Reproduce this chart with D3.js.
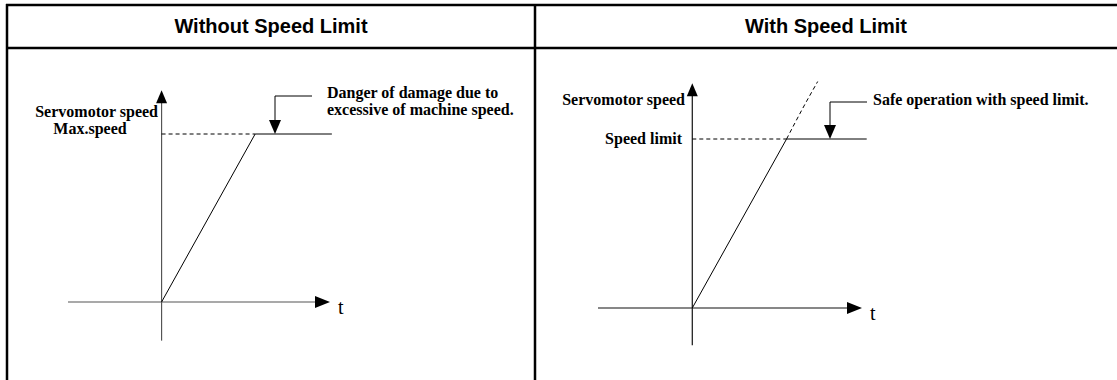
<!DOCTYPE html>
<html>
<head>
<meta charset="utf-8">
<script src="https://cdn.jsdelivr.net/npm/d3@7"></script>
<style>
  body { margin: 0; background: #fff; }
  .head { font-family: "Liberation Sans", Arial, sans-serif; font-weight: bold; font-size: 20px; }
  .lbl { font-family: "Liberation Serif", "Times New Roman", serif; font-weight: bold; font-size: 16px; }
  .t { font-family: "Liberation Serif", "Times New Roman", serif; font-size: 20px; }
</style>
</head>
<body>
<svg id="chart" width="1117" height="380"></svg>
<script>
// panel headers
var titles = ['Without Speed Limit', 'With Speed Limit'];

// speed profile (t, speed) - speed 1 = max speed / speed limit
var rampLeft = [[0, 0], [1, 1], [1.82, 1]];
var rampRight = [[0, 0], [1, 1], [1.85, 1]];
var overshoot = [[1, 1], [1.17, 1.18], [1.33, 1.34]];
var limitLevel = 1;

// axis extents
var tDomain = [-1, 1.8];
var speedLeft = [-0.23, 1.26];
var speedRight = [-0.22, 1.33];

// annotations
var leftLabels = ['Servomotor speed', 'Max.speed'];
var leftNote = ['Danger of damage due to', 'excessive of machine speed.'];
var rightLabels = ['Servomotor speed', 'Speed limit'];
var rightNote = ['Safe operation with speed limit.'];

var svg = d3.select('#chart');

// table frame
svg.append('line').attr('x1', 6).attr('x2', 1117).attr('y1', 5).attr('y2', 5).attr('stroke', '#000').attr('stroke-width', 2.5);
svg.append('line').attr('x1', 6).attr('x2', 1117).attr('y1', 48).attr('y2', 48).attr('stroke', '#000').attr('stroke-width', 2.5);
svg.append('line').attr('x1', 7).attr('x2', 7).attr('y1', 4).attr('y2', 380).attr('stroke', '#000').attr('stroke-width', 2.5);
svg.append('line').attr('x1', 535).attr('x2', 535).attr('y1', 4).attr('y2', 380).attr('stroke', '#000').attr('stroke-width', 2.5);

svg.selectAll('text.head')
  .data(titles)
  .enter()
  .append('text')
  .attr('class', 'head')
  .attr('x', function(d, i) { return i == 0 ? 271 : 826; })
  .attr('y', 33)
  .attr('text-anchor', 'middle')
  .text(function(d) { return d; });

var arrowHead = function(g, x, y, dir, len, half, color) {
  var pts;
  if (dir == 'up') pts = [[x, y], [x - half, y + len], [x + half, y + len]];
  if (dir == 'down') pts = [[x, y], [x - half, y - len], [x + half, y - len]];
  if (dir == 'right') pts = [[x, y], [x - len, y - half], [x - len, y + half]];
  g.append('path').attr('d', 'M' + pts.join('L') + 'Z').attr('fill', color);
};

var drawPanel = function(opt) {
  var g = svg.append('g');
  var x = d3.scaleLinear().domain(tDomain).range(opt.xRange);
  // y: speed 0 at the origin, speed 1 at the limit level
  var y = d3.scaleLinear().domain([0, limitLevel]).range(opt.yRange);
  var line = d3.line().x(function(d) { return x(d[0]); }).y(function(d) { return y(d[1]); });

  // axes
  g.append('line').attr('x1', x(tDomain[0])).attr('x2', x(tDomain[1]) - 12)
    .attr('y1', y(0)).attr('y2', y(0)).attr('stroke', opt.axisColor).attr('stroke-width', 1.2);
  arrowHead(g, x(tDomain[1]), y(0), 'right', 15, 6, '#000');
  g.append('line').attr('x1', x(0)).attr('x2', x(0))
    .attr('y1', y(opt.speed[0])).attr('y2', y(opt.speed[1]) + 10).attr('stroke', opt.axisColor).attr('stroke-width', 1.2);
  arrowHead(g, x(0), y(opt.speed[1]), 'up', 13, 5.5, '#000');
  g.append('text').attr('class', 't').attr('x', x(tDomain[1]) + 8).attr('y', y(0) + 12).text('t');

  // limit level dashed guide
  g.append('line').attr('x1', x(0)).attr('x2', x(1))
    .attr('y1', y(limitLevel)).attr('y2', y(limitLevel))
    .attr('stroke', '#000').attr('stroke-width', 1).attr('stroke-dasharray', '4,3');

  // speed profile
  g.append('path').datum(opt.ramp)
    .attr('d', line).attr('fill', 'none').attr('stroke', '#000').attr('stroke-width', 1);
  if (opt.over) {
    g.append('path').datum(opt.over).attr('d', line.curve(d3.curveNatural))
      .attr('fill', 'none').attr('stroke', '#000').attr('stroke-width', 1).attr('stroke-dasharray', '4,3');
  }

  // callout arrow
  var ax = opt.callout[0], ay = opt.callout[1], ex = opt.callout[2];
  g.append('path').attr('d', 'M' + ex + ',' + ay + 'H' + ax + 'V' + (y(limitLevel) - 12))
    .attr('fill', 'none').attr('stroke', '#000').attr('stroke-width', 1);
  arrowHead(g, ax, y(limitLevel), 'down', 14, 6, '#000');

  opt.labels.forEach(function(l) {
    g.append('text').attr('class', 'lbl').attr('x', l[1]).attr('y', l[2])
      .attr('text-anchor', l[3]).text(l[0]);
  });
};

drawPanel({
  xRange: [68, 330], yRange: [302, 134], speed: speedLeft, axisColor: '#555',
  ramp: rampLeft, over: null, callout: [275, 96, 312],
  labels: [[leftLabels[0], 158, 117, 'end'], [leftLabels[1], 90, 134, 'middle'],
           [leftNote[0], 327, 98, 'start'], [leftNote[1], 327, 115, 'start']]
});

drawPanel({
  xRange: [598, 862], yRange: [308, 139], speed: speedRight, axisColor: '#111',
  ramp: rampRight, over: overshoot, callout: [830, 102, 867],
  labels: [[rightLabels[0], 685, 105, 'end'], [rightLabels[1], 682, 144, 'end'],
           [rightNote[0], 873, 105, 'start']]
});
</script>
</body>
</html>
